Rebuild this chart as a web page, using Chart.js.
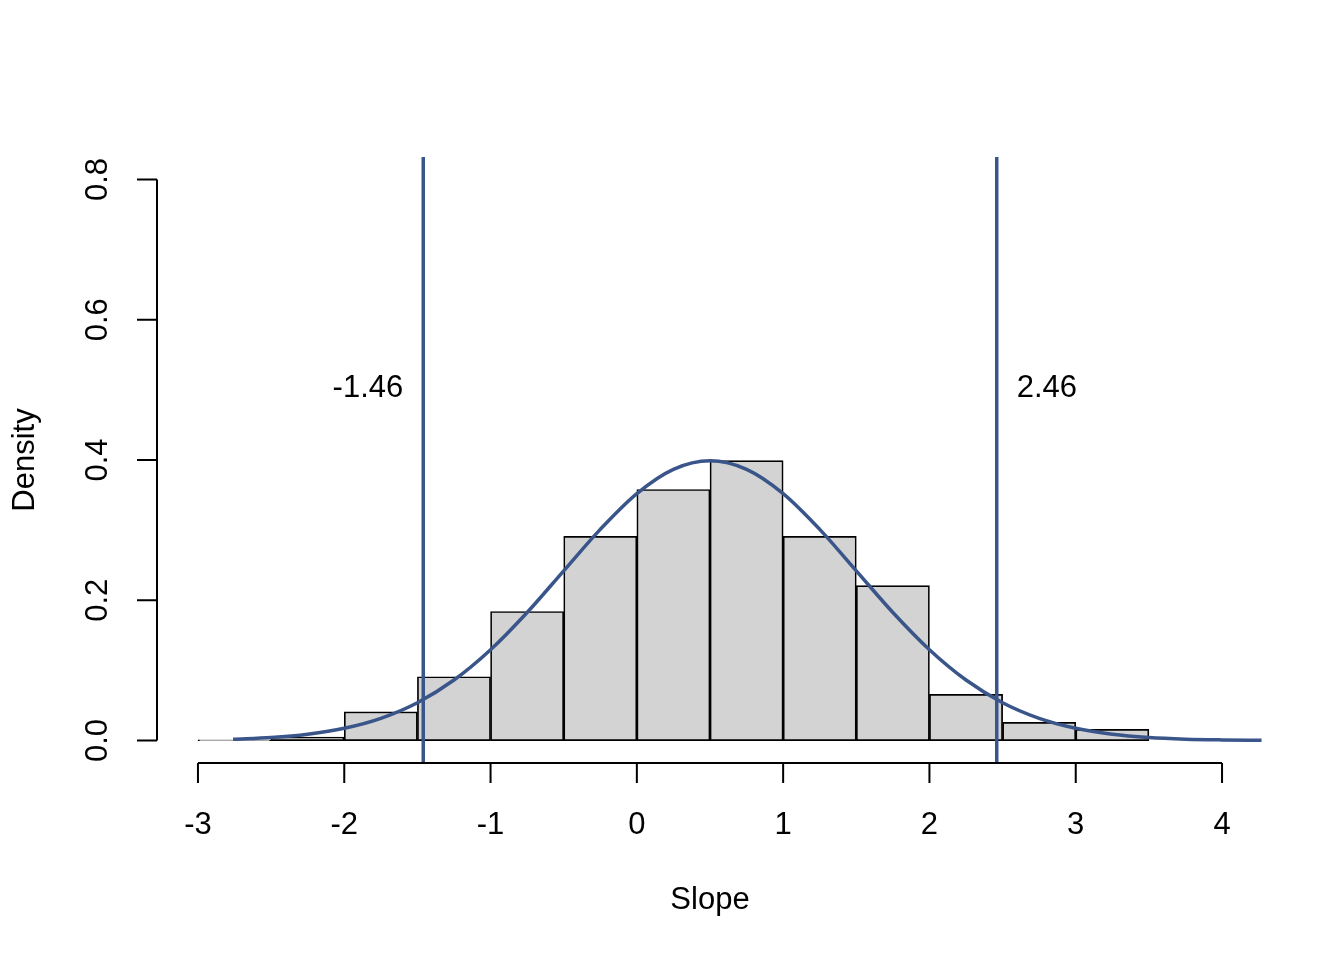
<!DOCTYPE html>
<html lang="en">
<head>
  <meta charset="UTF-8">
  <title>Slope histogram</title>
  <script src="https://cdn.jsdelivr.net/npm/chart.js"></script>
  <style>
    body {
        margin: 0;
        padding: 0;
        background-color: #ffffff;
    }
    .chart-box {
        width: 1344px;
        height: 960px;
    }
  </style>
</head>
<body>
  <div class="chart-box">
    <canvas id="histChart" width="1344" height="960"></canvas>
  </div>

  <script>
    // histogram bins (width 0.5), given by their mid points
    const binMids = [-2.75, -2.25, -1.75, -1.25, -0.75, -0.25, 0.25, 0.75, 1.25, 1.75, 2.25, 2.75, 3.25];
    const binDensity = [0.001, 0.005, 0.041, 0.091, 0.184, 0.291, 0.358, 0.399, 0.291, 0.221, 0.066, 0.026, 0.016];

    // fitted density curve
    const curveX = [-2.76, -2.5, -2.25, -2, -1.75, -1.5, -1.25, -1, -0.75, -0.5, -0.25, 0, 0.25, 0.5,
                    0.75, 1, 1.25, 1.5, 1.75, 2, 2.25, 2.5, 2.75, 3, 3.25, 3.5, 3.75, 4, 4.27];
    const curveY = [0.0020, 0.0044, 0.0091, 0.0175, 0.0317, 0.0540, 0.0863, 0.1295, 0.1826, 0.2420, 0.3011, 0.3521, 0.3867, 0.3989,
                    0.3867, 0.3521, 0.3011, 0.2420, 0.1826, 0.1295, 0.0863, 0.0540, 0.0317, 0.0175, 0.0091, 0.0044, 0.0020, 0.0009, 0.0003];

    // interval limits
    const cutoffs = [-1.46, 2.46];
    const cutoffLabels = ['-1.46', '2.46'];

    const xTicks = [-3, -2, -1, 0, 1, 2, 3, 4];
    const yTicks = [0, 0.2, 0.4, 0.6, 0.8];
    const yTickLabels = ['0.0', '0.2', '0.4', '0.6', '0.8'];

    const xTitle = 'Slope';
    const yTitle = 'Density';

    const blue = '#3a5589';
    const font = '31px "Liberation Sans", Arial, sans-serif';

    // R style detached axes and text, drawn from the chart's own scales
    const baseAxes = {
      id: 'baseAxes',
      afterDraw(chart) {
        const ctx = chart.ctx;
        const xs = chart.scales.x;
        const ys = chart.scales.y;
        const area = chart.chartArea;
        ctx.save();
        ctx.strokeStyle = '#000';
        ctx.fillStyle = '#000';
        ctx.lineWidth = 2;
        ctx.font = font;

        // x axis
        const axY = area.bottom;
        ctx.beginPath();
        ctx.moveTo(xs.getPixelForValue(xTicks[0]), axY);
        ctx.lineTo(xs.getPixelForValue(xTicks[xTicks.length - 1]), axY);
        xTicks.forEach(v => {
          const px = xs.getPixelForValue(v);
          ctx.moveTo(px, axY);
          ctx.lineTo(px, axY + 20);
        });
        ctx.stroke();
        ctx.textAlign = 'center';
        ctx.textBaseline = 'alphabetic';
        xTicks.forEach(v => {
          ctx.fillText(String(v), xs.getPixelForValue(v), axY + 71);
        });
        ctx.fillText(xTitle, (area.left + area.right) / 2, axY + 146);

        // y axis
        const axX = area.left;
        ctx.beginPath();
        ctx.moveTo(axX, ys.getPixelForValue(yTicks[0]));
        ctx.lineTo(axX, ys.getPixelForValue(yTicks[yTicks.length - 1]));
        yTicks.forEach(v => {
          const py = ys.getPixelForValue(v);
          ctx.moveTo(axX, py);
          ctx.lineTo(axX - 20, py);
        });
        ctx.stroke();
        yTicks.forEach((v, i) => {
          ctx.save();
          ctx.translate(axX - 50, ys.getPixelForValue(v));
          ctx.rotate(-Math.PI / 2);
          ctx.fillText(yTickLabels[i], 0, 0);
          ctx.restore();
        });
        ctx.save();
        ctx.translate(axX - 123, (area.top + area.bottom) / 2);
        ctx.rotate(-Math.PI / 2);
        ctx.fillText(yTitle, 0, 0);
        ctx.restore();

        // labels next to the cutoff lines
        const ly = ys.getPixelForValue(0.5) + 7;
        ctx.textAlign = 'right';
        ctx.fillText(cutoffLabels[0], xs.getPixelForValue(cutoffs[0]) - 20, ly);
        ctx.textAlign = 'left';
        ctx.fillText(cutoffLabels[1], xs.getPixelForValue(cutoffs[1]) + 20, ly);
        ctx.restore();
      }
    };

    const ctx = document.getElementById('histChart').getContext('2d');
    const histChart = new Chart(ctx, {
      type: 'bar',
      data: {
        datasets: [
          {
            type: 'line',
            data: [{ x: cutoffs[0], y: -1 }, { x: cutoffs[0], y: 2 }],
            borderColor: blue,
            borderWidth: 3.5,
            pointRadius: 0,
            order: 1
          },
          {
            type: 'line',
            data: [{ x: cutoffs[1], y: -1 }, { x: cutoffs[1], y: 2 }],
            borderColor: blue,
            borderWidth: 3.5,
            pointRadius: 0,
            order: 1
          },
          {
            type: 'line',
            data: curveX.map((x, i) => ({ x: x, y: curveY[i] })),
            borderColor: blue,
            borderWidth: 3.5,
            pointRadius: 0,
            cubicInterpolationMode: 'monotone',
            order: 2
          },
          {
            type: 'bar',
            data: binMids.map((x, i) => ({ x: x, y: binDensity[i] })),
            backgroundColor: '#d3d3d3',
            borderColor: '#000',
            borderWidth: 1.7,
            borderSkipped: false,
            barPercentage: 1,
            categoryPercentage: 1,
            order: 3
          }
        ]
      },
      options: {
        responsive: false,
        animation: false,
        devicePixelRatio: 1,
        layout: {
          padding: { left: 157, right: 81, top: 157, bottom: 197 }
        },
        plugins: {
          legend: { display: false },
          tooltip: { enabled: false }
        },
        scales: {
          x: {
            type: 'linear',
            min: -3.28,
            max: 4.28,
            offset: false,
            display: false,
            // keep tick spacing out of the bar width calculation
            afterBuildTicks: (s) => { s.ticks = [{ value: -3 }, { value: 4 }]; }
          },
          y: {
            type: 'linear',
            min: -0.032,
            max: 0.832,
            display: false
          }
        }
      },
      plugins: [baseAxes]
    });
  </script>
</body>
</html>
